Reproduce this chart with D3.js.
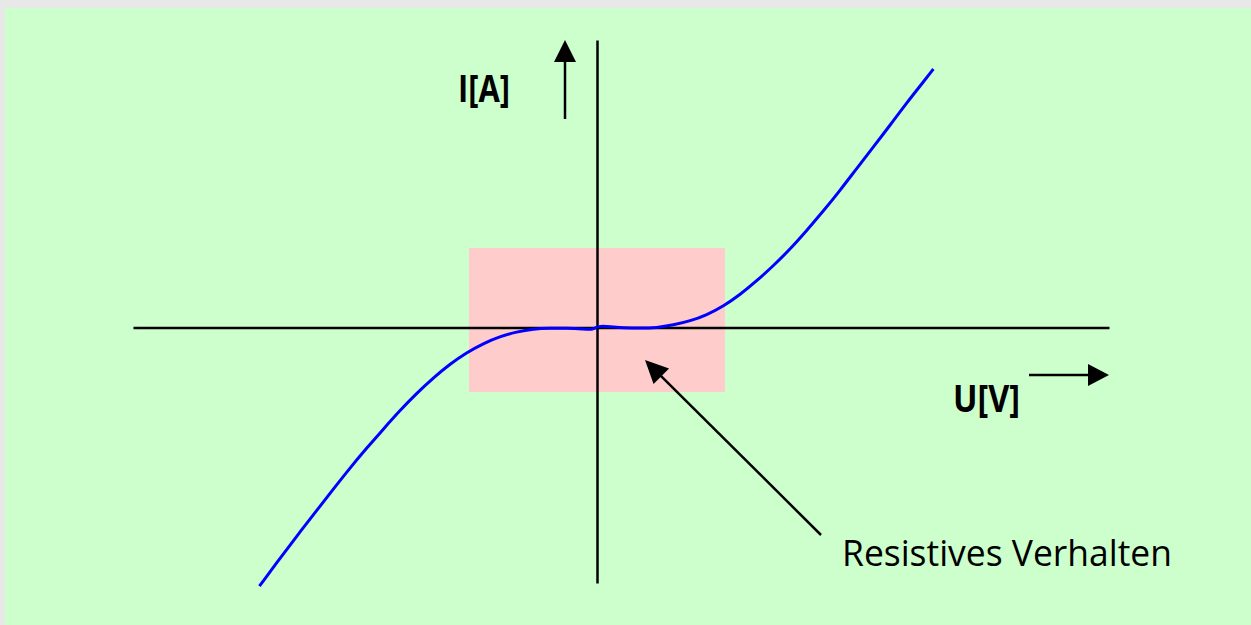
<!DOCTYPE html>
<html>
<head>
<meta charset="utf-8">
<script src="https://cdn.jsdelivr.net/npm/d3@7"></script>
<style>
  html, body { margin: 0; padding: 0; background: #e8e8e8; }
  #graph-container { width: 1251px; height: 625px; overflow: hidden; }
</style>
</head>
<body>
<div id="graph-container"></div>
<script>
// Curve of the I/U characteristic (U[V], I[A])
var leftU  = [-8.44, -7.84, -7.43, -7.01, -6.59, -6.18, -5.76, -5.34, -4.93, -4.51, -4.09, -3.68, -3.26, -2.84, -2.43, -2.01, -1.59, -1.18, -0.76, -0.34, -0.09];
var leftI  = [-6.48, -5.67, -5.13, -4.59, -4.05, -3.53, -3.03, -2.55, -2.09, -1.66, -1.27, -0.93, -0.64, -0.41, -0.24, -0.12, -0.05, -0.03, -0.03, -0.05, -0.07];
var rightU = [0.01, 0.33, 0.66, 1.08, 1.49, 1.91, 2.33, 2.74, 3.16, 3.58, 3.99, 4.41, 4.83, 5.24, 5.66, 6.08, 6.49, 6.91, 7.33, 7.74, 8.16, 8.41];
var rightI = [0.03, 0.01, -0.02, -0.03, -0.02, 0.05, 0.15, 0.30, 0.52, 0.81, 1.15, 1.53, 1.95, 2.41, 2.90, 3.42, 3.96, 4.50, 5.05, 5.60, 6.13, 6.45];

// Highlighted "resistive" region
var regionU = [-3.2, 3.2];
var regionI = [-1.625, 1.975];

// Texts
var labelI = "I[A]";
var labelU = "U[V]";
var noteText = "Resistives Verhalten";

var svgWidth = 1251;
var svgHeight = 625;

var container = d3.select("#graph-container");

var svg = container
  .append("svg")
  .attr("width", svgWidth)
  .attr("height", svgHeight);

// Green panel
svg.append("rect")
  .attr("x", 5)
  .attr("y", 8)
  .attr("width", svgWidth - 5)
  .attr("height", svgHeight - 8)
  .attr("fill", "#ccffcc");

// Scales
var xScale = d3.scaleLinear()
  .domain([-11.6, 12.8])
  .range([133, 1109]);

var yScale = d3.scaleLinear()
  .domain([-6.4, 7.175])
  .range([583, 40]);

// Pink region
svg.append("rect")
  .attr("x", xScale(regionU[0]))
  .attr("y", yScale(regionI[1]))
  .attr("width", xScale(regionU[1]) - xScale(regionU[0]))
  .attr("height", yScale(regionI[0]) - yScale(regionI[1]))
  .attr("fill", "#ffcccc");

// Axes (plain lines, no ticks)
var xAxis = d3.axisBottom(xScale).tickValues([]).tickSizeOuter(0);
svg.append("g")
  .attr("transform", "translate(0," + (yScale(0) + 0.5) + ")")
  .call(xAxis)
  .select(".domain")
  .attr("stroke", "#000")
  .attr("stroke-width", 2.5);

var yAxis = d3.axisLeft(yScale).tickValues([]).tickSizeOuter(0);
svg.append("g")
  .attr("transform", "translate(" + xScale(0) + ",0)")
  .call(yAxis)
  .select(".domain")
  .attr("stroke", "#000")
  .attr("stroke-width", 2.5);

// Curve (two branches meeting at the origin)
var leftData = leftU.map(function (u, i) { return { u: u, i: leftI[i] }; });
var rightData = rightU.map(function (u, i) { return { u: u, i: rightI[i] }; });

var line = d3.line()
  .x(function (d) { return xScale(d.u); })
  .y(function (d) { return yScale(d.i); })
  .curve(d3.curveBasis);

svg.append("path")
  .datum(leftData.concat(rightData))
  .attr("fill", "none")
  .attr("stroke", "#0000ff")
  .attr("stroke-width", 3)
  .attr("stroke-linejoin", "round")
  .attr("d", line);

// Arrow helper: line from (x1,y1) to tip (x2,y2) with filled head
function arrow(x1, y1, x2, y2, headLen, headHalf, width) {
  var dx = x2 - x1, dy = y2 - y1;
  var len = Math.sqrt(dx * dx + dy * dy);
  var ux = dx / len, uy = dy / len;
  var bx = x2 - ux * headLen, by = y2 - uy * headLen;
  svg.append("line")
    .attr("x1", x1).attr("y1", y1)
    .attr("x2", bx + ux).attr("y2", by + uy)
    .attr("stroke", "#000")
    .attr("stroke-width", width);
  svg.append("polygon")
    .attr("points", [
      [x2, y2],
      [bx - uy * headHalf, by + ux * headHalf],
      [bx + uy * headHalf, by - ux * headHalf]
    ].map(function (p) { return p.join(","); }).join(" "))
    .attr("fill", "#000");
}

// Axis label arrows
arrow(xScale(-0.8), yScale(5.2), xScale(-0.8), yScale(7.175), 22, 11, 2.5);
arrow(xScale(10.8), yScale(-1.2), xScale(12.8), yScale(-1.2), 21, 11, 2.5);

// Annotation arrow
arrow(821, 535, 645, 360, 23, 11, 2.5);

// Labels
svg.append("text")
  .attr("x", 458)
  .attr("y", 102)
  .attr("textLength", 52)
  .attr("lengthAdjust", "spacingAndGlyphs")
  .style("font-family", "'Open Sans', sans-serif")
  .style("font-size", "37px")
  .style("font-weight", "bold")
  .style("fill", "#000")
  .text(labelI);

svg.append("text")
  .attr("x", 953)
  .attr("y", 412)
  .attr("textLength", 67)
  .attr("lengthAdjust", "spacingAndGlyphs")
  .style("font-family", "'Open Sans', sans-serif")
  .style("font-size", "37px")
  .style("font-weight", "bold")
  .style("fill", "#000")
  .text(labelU);

svg.append("text")
  .attr("x", 842)
  .attr("y", 566)
  .attr("textLength", 330)
  .attr("lengthAdjust", "spacingAndGlyphs")
  .style("font-family", "'Open Sans', sans-serif")
  .style("font-size", "36px")
  .style("fill", "#000")
  .text(noteText);
</script>
</body>
</html>
